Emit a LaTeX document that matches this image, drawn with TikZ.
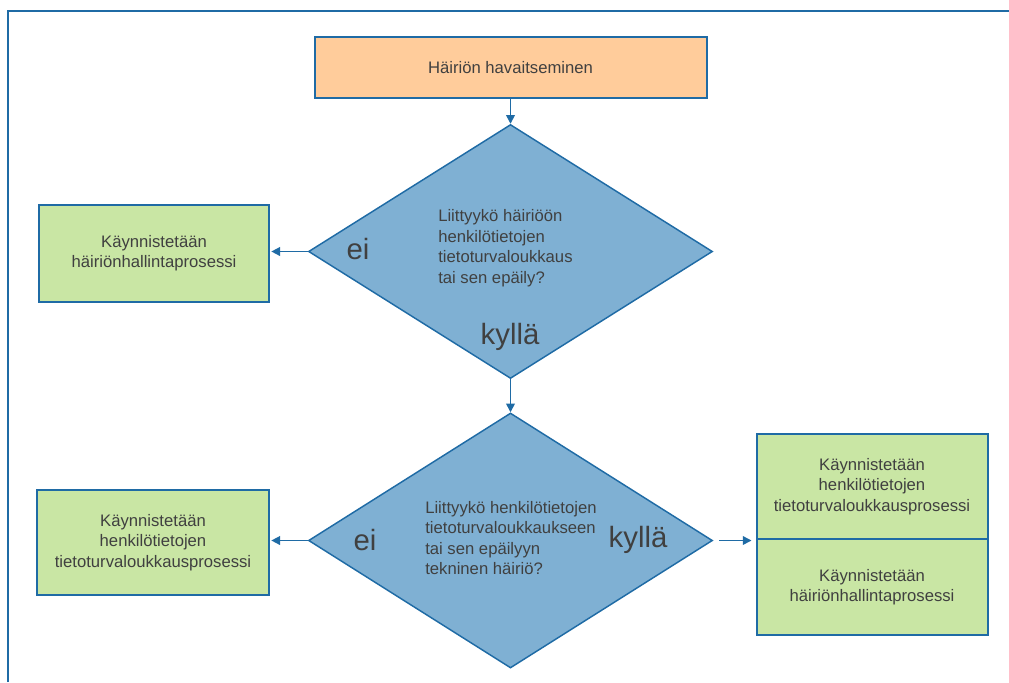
\documentclass[tikz,border=0pt]{standalone}
\usepackage{fontspec}
\setmainfont{Liberation Sans}
\usetikzlibrary{shapes.geometric,arrows.meta}
\definecolor{bord}{HTML}{1F6BA5}
\definecolor{dfill}{HTML}{7FB0D3}
\definecolor{peach}{HTML}{FFCC9B}
\definecolor{grn}{HTML}{C9E6A4}
\definecolor{txt}{HTML}{404040}
\tikzset{
  box/.style={draw=bord, line width=1.5pt, text=txt, align=center, inner sep=0pt,
    font=\fontsize{12.5}{15.4}\selectfont},
  dia/.style={diamond, draw=bord, fill=dfill, line width=1.1pt, inner sep=0pt},
  qtext/.style={text=txt, align=left, inner sep=0pt, font=\fontsize{12.5}{15.4}\selectfont},
  ans/.style={text=txt, inner sep=0pt, font=\fontsize{22}{24}\selectfont},
  arr/.style={draw=bord, line width=1.1pt, -{Triangle[length=6.5pt,width=6.5pt]}}
}
\begin{document}
\begin{tikzpicture}[x=0.75pt,y=-0.75pt]
\useasboundingbox (0,0) rectangle (1009,682);
% frame
\draw[bord, line width=1.8pt] (8,682) -- (8,11) -- (1009,11);
% top box
\node[box, fill=peach, minimum width=392*0.75pt, minimum height=61*0.75pt] (top) at (510.5,67.5) {Häiriön havaitseminen};
% diamonds
\node[dia, minimum width=404*0.75pt, minimum height=254*0.75pt] (d1) at (510.5,251.5) {};
\node[dia, minimum width=404*0.75pt, minimum height=255*0.75pt] (d2) at (510.5,540.5) {};
% diamond texts
\node[qtext, anchor=west] (q1) at (438,248) {Liittyykö häiriöön\\henkilötietojen\\tietoturvaloukkaus\\tai sen epäily?};
\node[qtext, anchor=west] (q2) at (425,538) {Liittyykö henkilötietojen\\tietoturvaloukkaukseen\\tai sen epäilyyn\\tekninen häiriö?};
\node[ans] (ei1) at (358,249) {ei};
\node[ans] (ky1) at (510,337) {kyllä};
\node[ans] (ei2) at (365,540) {ei};
\node[ans] (ky2) at (638,540) {kyllä};
% left boxes
\node[box, fill=grn, minimum width=230*0.75pt, minimum height=97*0.75pt] (l1) at (154,253) {Käynnistetään\\häiriönhallintaprosessi};
\node[box, fill=grn, minimum width=232*0.75pt, minimum height=105*0.75pt] (l2) at (153,542.5) {Käynnistetään\\henkilötietojen\\tietoturvaloukkausprosessi};
% right boxes
\node[box, fill=grn, minimum width=231*0.75pt, minimum height=105*0.75pt] (r1) at (872,486.5) {Käynnistetään\\henkilötietojen\\tietoturvaloukkausprosessi};
\node[box, fill=grn, minimum width=231*0.75pt, minimum height=96*0.75pt] (r2) at (872,587) {Käynnistetään\\häiriönhallintaprosessi};
% connectors
\draw[arr] (top.south) -- (d1.north);
\draw[arr] (d1.south) -- (d2.north);
\draw[arr, shorten >=1pt] (d1.west) -- (d1.west -| l1.east);
\draw[arr, shorten >=1pt] (d2.west) -- (d2.west -| l2.east);
\draw[arr, shorten <=4.5pt, shorten >=3pt] (d2.east) -- (d2.east -| r1.west);
\end{tikzpicture}
\end{document}
